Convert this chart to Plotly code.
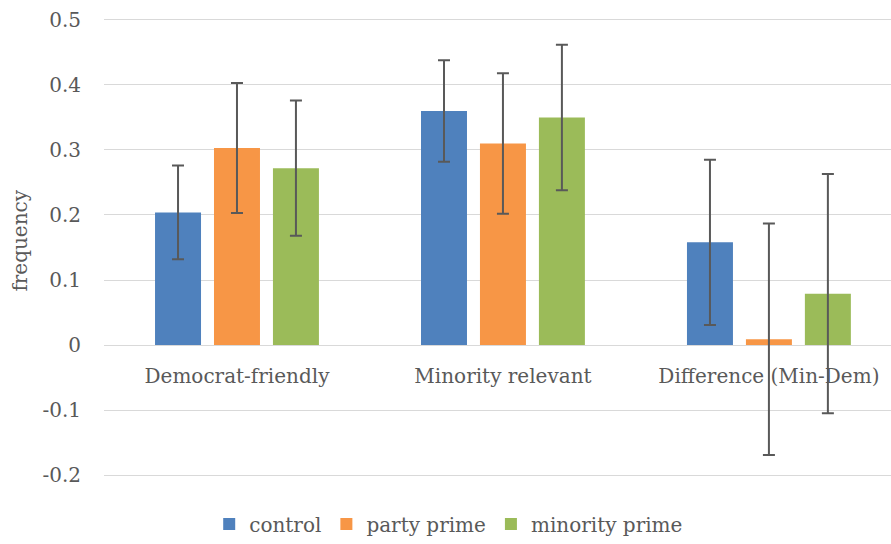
import plotly.graph_objects as go

# Category labels and y-axis ticks
categories = ["Democrat-friendly", "Minority relevant", "Difference (Min-Dem)"]
y_ticks = [-0.2, -0.1, 0, 0.1, 0.2, 0.3, 0.4, 0.5]
y_tick_text = ["-0.2", "-0.1", "0", "0.1", "0.2", "0.3", "0.4", "0.5"]

# Mean frequencies per condition
control = [0.204, 0.360, 0.158]
party_prime = [0.303, 0.310, 0.009]
minority_prime = [0.272, 0.350, 0.079]

# Error bar half-widths
control_err = [0.072, 0.078, 0.127]
party_prime_err = [0.100, 0.108, 0.178]
minority_prime_err = [0.104, 0.112, 0.184]

FONT = "DejaVu Serif"
TEXT = "#595959"
GRID = "#d9d9d9"

series = [
    ("control", control, control_err, "#4F81BD"),
    ("party prime", party_prime, party_prime_err, "#F79646"),
    ("minority prime", minority_prime, minority_prime_err, "#9BBB59"),
]

fig = go.Figure()
for name, vals, errs, color in series:
    fig.add_trace(go.Bar(
        name=name,
        x=categories,
        y=vals,
        marker=dict(color=color, line=dict(width=0)),
        error_y=dict(type="data", array=errs, visible=True,
                     color=TEXT, thickness=2, width=6),
    ))

# y range padded a hair so the end gridlines (-0.2 and 0.5) are drawn
Y_MIN, Y_MAX = -0.2045, 0.5045
zero_frac = -Y_MIN / (Y_MAX - Y_MIN)

fig.update_layout(
    width=891, height=544,
    margin=dict(l=104, r=0, t=17, b=62),
    paper_bgcolor="white", plot_bgcolor="white",
    barmode="group", bargap=0.335, bargroupgap=0.22,
    font=dict(family=FONT, size=20, color=TEXT),
    showlegend=True,
    legend=dict(orientation="h", x=0.438, xanchor="center",
                y=-0.1, yanchor="middle",
                font=dict(family=FONT, size=20, color=TEXT),
                itemwidth=30, traceorder="normal"),
    xaxis=dict(
        type="category", range=[-0.5, 2.459],
        anchor="free", position=zero_frac,
        showgrid=False, showline=False, zeroline=False,
        ticks="outside", ticklen=13, tickcolor="rgba(0,0,0,0)",
        tickfont=dict(family=FONT, size=20, color=TEXT),
    ),
    yaxis=dict(
        range=[Y_MIN, Y_MAX], domain=[0, 1],
        tickvals=y_ticks, ticktext=y_tick_text,
        showgrid=True, gridcolor=GRID, gridwidth=1.3,
        zeroline=True, zerolinecolor=GRID, zerolinewidth=1.3,
        showline=False,
        ticks="outside", ticklen=18, tickcolor="rgba(0,0,0,0)",
        tickfont=dict(family=FONT, size=20, color=TEXT),
    ),
    annotations=[dict(
        text="frequency", textangle=-90,
        xref="paper", yref="paper", x=-0.1067, y=0.515,
        xanchor="center", yanchor="middle", showarrow=False,
        font=dict(family=FONT, size=20, color=TEXT),
    )],
)

fig.write_html("out.html")
